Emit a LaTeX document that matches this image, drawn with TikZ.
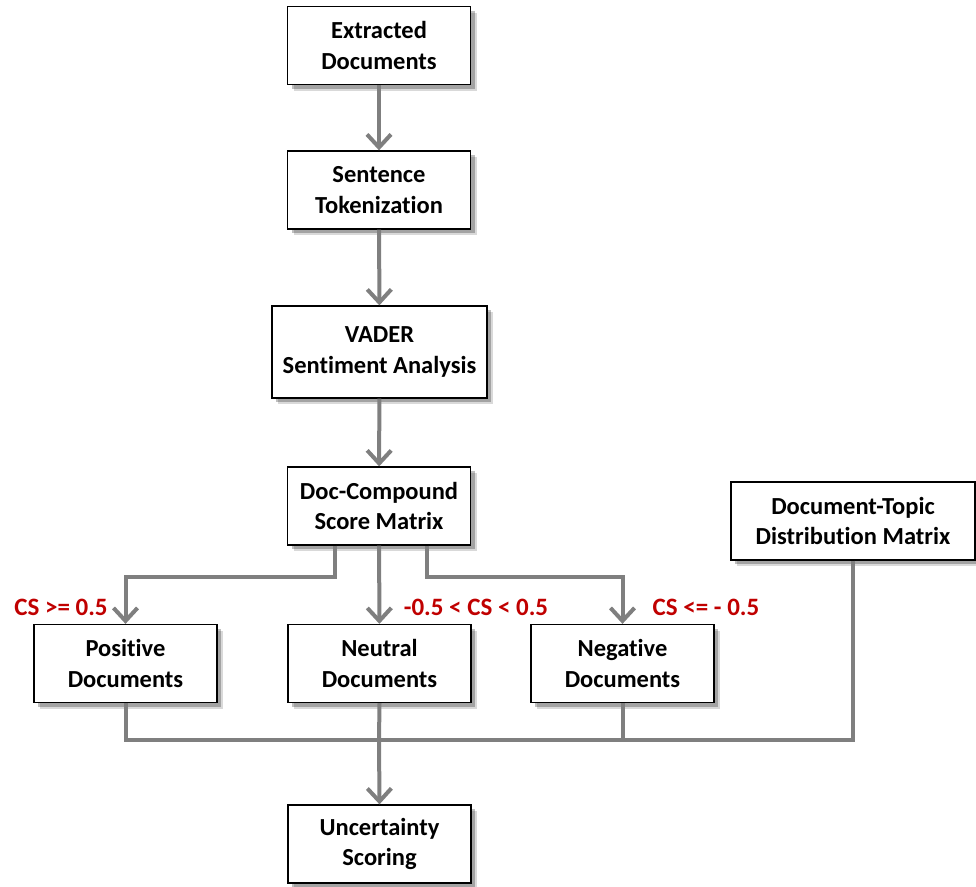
\documentclass[tikz,border=0pt]{standalone}
\usepackage{fontspec}
\setmainfont{Carlito}[Ligatures=NoCommon]
\usetikzlibrary{arrows.meta,shadows}
\definecolor{lred}{HTML}{C00000}
\definecolor{lgray}{HTML}{7F7F7F}
\tikzset{
  box/.style={draw=black, line width=1.3pt, fill=white, align=center,
    minimum width=183pt, minimum height=78pt, inner sep=2pt,
    font=\fontsize{24.5}{30.5}\selectfont\bfseries,
    drop shadow={shadow xshift=6pt, shadow yshift=-6pt, opacity=0.15, fill=black},
    drop shadow={shadow xshift=4pt, shadow yshift=-4pt, opacity=0.25, fill=black}},
  conn/.style={draw=lgray, line width=4pt},
  arr/.style={conn, -{Straight Barb[length=13pt, width=24pt]}},
  lab/.style={text=lred, font=\fontsize{25}{28}\selectfont\bfseries, inner sep=0pt}
}
\begin{document}
\begin{tikzpicture}[x=1pt,y=-1pt]
\useasboundingbox (0,0) rectangle (976,886);
\node[box] (ext) at (379,45.5) {Extracted\\Documents};
\node[box] (sen) at (379,190) {Sentence\\Tokenization};
\node[box, minimum width=215pt, minimum height=92pt] (vad) at (379.5,352) {VADER\\Sentiment Analysis};
\node[box] (dcs) at (379,506) {Doc-Compound\\Score Matrix};
\node[box, minimum width=244pt] (dtd) at (853,521) {Document-Topic\\Distribution Matrix};
\node[box] (pos) at (125.5,663.5) {Positive\\Documents};
\node[box] (neu) at (379.5,663.5) {Neutral\\Documents};
\node[box] (neg) at (622.5,663.5) {Negative\\Documents};
\node[box] (unc) at (379.5,844) {Uncertainty\\Scoring};
\coordinate (jn) at (379,740);
\draw[arr] (ext) -- (sen);
\draw[arr] (sen) -- (vad);
\draw[arr] (vad) -- (dcs);
\draw[arr] ([xshift=-44pt]dcs.south) -- ++(0,31) -| (pos.north);
\draw[arr] (dcs) -- (neu);
\draw[arr] ([xshift=48pt]dcs.south) -- ++(0,31) -| (neg.north);
\draw[conn] (pos.south) |- (jn);
\draw[conn] (neg.south) |- (jn);
\draw[conn] (neu.south) -- (jn);
\draw[conn] (dtd.south) |- (jn);
\draw[arr] (jn) -- (unc.north);
\node[lab] (l1) at (61,607) {CS >= 0.5};
\node[lab] (l2) at (476,607) {-0.5 < CS < 0.5};
\node[lab] (l3) at (706,607) {CS <= - 0.5};
\end{tikzpicture}
\end{document}
